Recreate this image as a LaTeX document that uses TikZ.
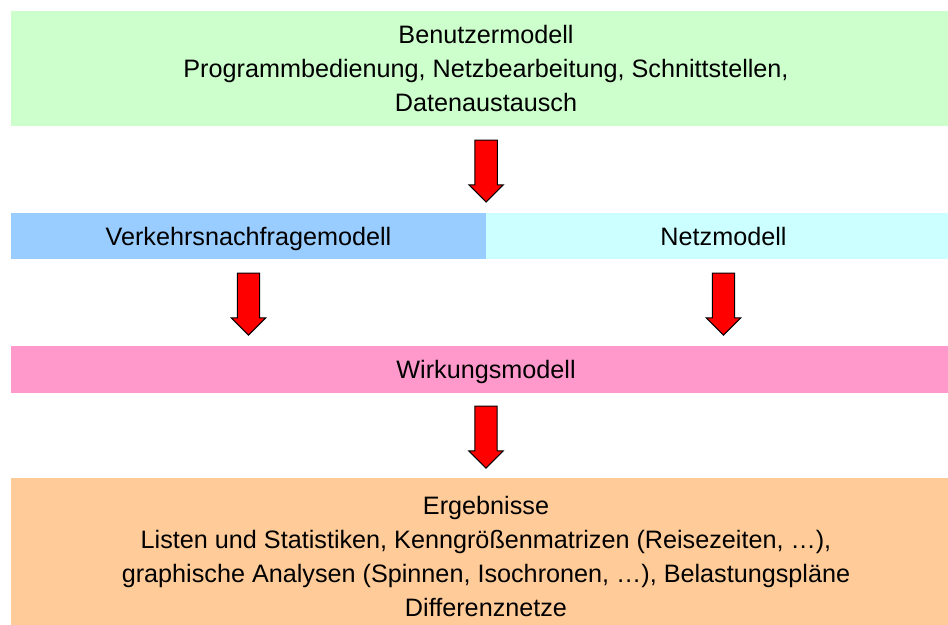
\documentclass[tikz,border=0pt]{standalone}
\usepackage{fontspec}
\setmainfont{Liberation Sans}
\usepackage{tikz}
\usetikzlibrary{positioning, calc, shapes.arrows}

\definecolor{usergreen}{HTML}{CCFFCC}
\definecolor{demandblue}{HTML}{99CCFF}
\definecolor{netcyan}{HTML}{CCFFFF}
\definecolor{effectpink}{HTML}{FF99CC}
\definecolor{resultorange}{HTML}{FFCC99}

\begin{document}
\begin{tikzpicture}[
  x=0.75pt, y=-0.75pt,
  layer/.style={rectangle, inner sep=0pt, align=center,
    font=\fontsize{18.9}{25.5}\selectfont},
  oneline/.style={text depth=0pt},
  blockarrow/.style={single arrow, draw=black, fill=red, line width=0.8pt,
    inner xsep=0pt, inner ysep=8pt, minimum height=46.5pt,
    single arrow head extend=4.5pt, rotate=-90}
]
  \useasboundingbox (0,0) rectangle (948,624);
  \clip (0,0) rectangle (948,624);

  \node[layer, fill=usergreen, minimum width=950*0.75pt, minimum height=115*0.75pt] (user) at (486,68.5)
    {Benutzermodell\\Programmbedienung, Netzbearbeitung, Schnittstellen,\\Datenaustausch};
  \node[layer, oneline, fill=demandblue, minimum width=475*0.75pt, minimum height=46*0.75pt] (demand) at (248.5,236)
    {Verkehrsnachfragemodell};
  \node[layer, oneline, fill=netcyan, minimum width=475*0.75pt, minimum height=46*0.75pt] (net) at (723.5,236)
    {Netzmodell};
  \node[layer, oneline, fill=effectpink, minimum width=950*0.75pt, minimum height=47*0.75pt] (effect) at (486,369.5)
    {Wirkungsmodell};
  \node[layer, fill=resultorange, minimum width=950*0.75pt, minimum height=157*0.75pt] (result) at (486,556.5)
    {Ergebnisse\\Listen und Statistiken, Kenngrößenmatrizen (Reisezeiten, \dots),\\graphische Analysen (Spinnen, Isochronen, \dots), Belastungspläne\\Differenznetze};

  % arrows between the layers
  \node[blockarrow] (a1) at ($(user.south)!0.5!(demand.north east)+(0,-4)$) {};
  \node[blockarrow] (a2) at ($(demand.south)!0.5!(demand.south|-effect.north)+(0,-4)$) {};
  \node[blockarrow] (a3) at ($(net.south)!0.5!(net.south|-effect.north)+(0,-4)$) {};
  \node[blockarrow] (a4) at ($(effect.south)!0.5!(result.north)+(0,-4)$) {};
\end{tikzpicture}
\end{document}
